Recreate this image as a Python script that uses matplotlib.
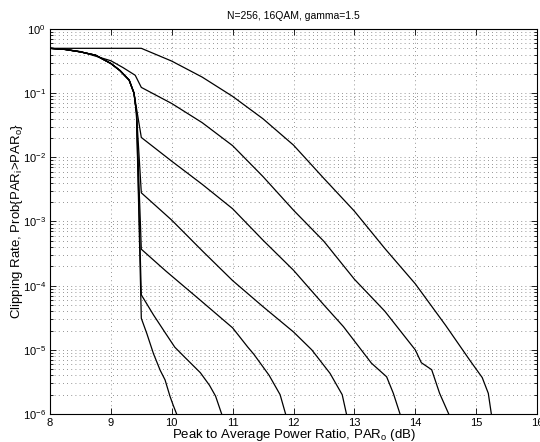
import numpy as np
import matplotlib
matplotlib.use('Agg')
import matplotlib.pyplot as plt
from matplotlib.ticker import LogLocator, NullFormatter, FixedLocator

plt.rcParams['font.family'] = ['Liberation Sans', 'DejaVu Sans']
plt.rcParams['mathtext.default'] = 'regular'

# shared head of the clipped curves (before the knee at 9.5 dB)
base_x = [8.0, 8.25, 8.5, 8.75, 9.0, 9.15, 9.3, 9.38, 9.42]
base_y = [0.50, 0.48, 0.44, 0.39, 0.29, 0.225, 0.16, 0.10, 0.05]

# curve 1 (no early drop)
c1_x = [8.0, 9.5, 10.0, 10.5, 11.0, 11.5, 12.0, 12.5, 13.0, 13.5, 14.0, 14.5,
        14.9, 15.1, 15.2, 15.25]
c1_y = [0.50, 0.50, 0.316, 0.178, 0.0891, 0.0398, 0.0155, 4.68e-3, 1.45e-3,
        3.8e-4, 1.07e-4, 2.4e-5, 6.8e-6, 3.7e-6, 2.1e-6, 1e-6]

# curve 2
c2_x = [8.0, 8.25, 8.5, 9.0, 9.2, 9.4, 9.5, 10.0, 10.5, 11.0, 11.5, 12.0, 12.5,
        13.0, 13.5, 14.0, 14.1, 14.27, 14.4, 14.55]
c2_y = [0.50, 0.48, 0.445, 0.32, 0.25, 0.19, 0.123, 0.069, 0.0347, 0.0152,
        5.0e-3, 1.5e-3, 4.9e-4, 1.26e-4, 4.0e-5, 1.0e-5, 6.3e-6, 4.9e-6,
        2.1e-6, 1e-6]

# curves 3..7: tails after the knee
c3_x = [9.5, 10.0, 10.5, 11.0, 11.5, 12.0, 12.5, 12.82, 13.28, 13.53, 13.64, 13.75]
c3_y = [0.0204, 8.7e-3, 3.8e-3, 1.58e-3, 5.1e-4, 1.74e-4, 5.0e-5, 2.3e-5,
        6.2e-6, 3.8e-6, 2.1e-6, 1e-6]

c4_x = [9.5, 10.0, 10.5, 11.0, 11.5, 12.0, 12.3, 12.6, 12.8, 12.87]
c4_y = [2.8e-3, 1.05e-3, 3.5e-4, 1.2e-4, 4.7e-5, 1.9e-5, 1.0e-5, 4.3e-6,
        2.0e-6, 1e-6]

c5_x = [9.5, 9.9, 10.5, 11.0, 11.25, 11.35, 11.6, 11.78, 11.87]
c5_y = [3.7e-4, 1.7e-4, 5.6e-5, 2.2e-5, 1.1e-5, 8.5e-6, 4.0e-6, 2.0e-6, 1e-6]

c6_x = [9.5, 9.7, 9.9, 10.05, 10.2, 10.47, 10.62, 10.72, 10.82]
c6_y = [7.2e-5, 3.5e-5, 1.8e-5, 1.1e-5, 7.9e-6, 4.4e-6, 2.8e-6, 1.9e-6, 1e-6]

c7_x = [9.5, 9.59, 9.7, 9.81, 9.89, 9.97, 10.02, 10.08]
c7_y = [3.1e-5, 1.8e-5, 8.7e-6, 4.8e-6, 3.4e-6, 1.9e-6, 1.4e-6, 1e-6]

fig = plt.figure(figsize=(5.40, 4.42), dpi=100)
ax = fig.add_axes([50 / 540, 1 - 414 / 442, 487 / 540, 385 / 442])

lw = 0.9
ax.semilogy(c1_x, c1_y, color='k', lw=lw)
ax.semilogy(c2_x, c2_y, color='k', lw=lw)
ax.semilogy(base_x[:8] + c3_x, base_y[:8] + c3_y, color='k', lw=lw)
for tx, ty in [(c4_x, c4_y), (c5_x, c5_y), (c6_x, c6_y), (c7_x, c7_y)]:
    ax.semilogy(base_x + tx, base_y + ty, color='k', lw=lw)

ax.set_xlim(8, 16)
ax.set_ylim(1e-6, 1)
ax.xaxis.set_major_locator(FixedLocator(range(8, 17)))
ax.yaxis.set_major_locator(LogLocator(base=10, numticks=10))
ax.yaxis.set_minor_locator(LogLocator(base=10, subs=np.arange(2, 10), numticks=20))
ax.yaxis.set_minor_formatter(NullFormatter())

ax.tick_params(which='both', direction='in', top=True, right=True,
               labelsize=8, width=0.6)
ax.tick_params(which='major', length=4, pad=3)
ax.tick_params(which='minor', length=2.2)

ax.grid(True, which='major', axis='both', color='0.45', lw=0.6,
        linestyle=(0, (1, 4)))
ax.grid(True, which='minor', axis='y', color='0.45', lw=0.6,
        linestyle=(0, (1, 4)))
for s in ax.spines.values():
    s.set_linewidth(0.8)

ax.set_title('N=256, 16QAM, gamma=1.5', fontsize=7.5, pad=7)
ax.set_xlabel('Peak to Average Power Ratio, PAR$_o$ (dB)', fontsize=9.5)
ax.xaxis.set_label_coords(0.5, -0.034)
ax.set_ylabel('Clipping Rate, Prob{PAR$_i$>PAR$_o$}', fontsize=9.5)
ax.yaxis.set_label_coords(-0.052, 0.5)

fig.savefig('out.png', dpi=100)
